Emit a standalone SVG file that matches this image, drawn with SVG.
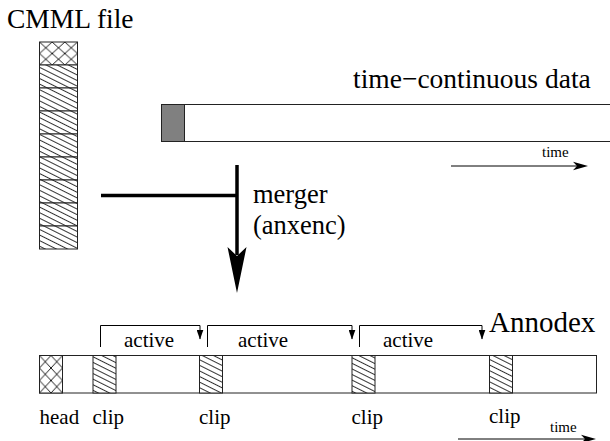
<svg xmlns="http://www.w3.org/2000/svg" width="610" height="441" viewBox="0 0 610 441">
<style>
text{fill:#000;font-family:'Liberation Serif','Times New Roman',serif}
.big{font-size:27.5px}
.mid{font-size:21px}
.sm{font-size:15px}
.box{fill:#fff;stroke:#222;stroke-width:1}
.thin{fill:none;stroke:#000;stroke-width:1}
.thick{fill:none;stroke:#000;stroke-width:3.5}
</style>
<defs>
<pattern id="hatch" width="8" height="5" patternUnits="userSpaceOnUse" patternTransform="rotate(26.57)">
<rect width="8" height="5" fill="#fff"/>
<line x1="0" y1="2.5" x2="8" y2="2.5" stroke="#000" stroke-width="0.8"/>
</pattern>
<pattern id="cross1" x="39.5" y="42" width="12.667" height="11.5" patternUnits="userSpaceOnUse">
<rect width="12.667" height="11.5" fill="#fff"/>
<path d="M0,0 L12.667,11.5 M12.667,0 L0,11.5" stroke="#000" stroke-width="0.9"/>
</pattern>
<pattern id="cross2" x="39.5" y="355.5" width="11.5" height="12.5" patternUnits="userSpaceOnUse">
<rect width="11.5" height="12.5" fill="#fff"/>
<path d="M0,0 L11.5,12.5 M11.5,0 L0,12.5" stroke="#000" stroke-width="0.9"/>
</pattern>
<marker id="ah" markerWidth="7" markerHeight="10" refX="3.5" refY="9.5" orient="0" markerUnits="userSpaceOnUse">
<path d="M0,0 L7,0 L3.5,10 Z" fill="#000"/>
</marker>
</defs>

<g id="cmml">
<text class="big" x="7" y="28">CMML file</text>
<rect x="39.5" y="42" width="38" height="23" fill="url(#cross1)" stroke="#222"/>
<rect x="39.5" y="65" width="38" height="23" fill="url(#hatch)" stroke="#222"/>
<rect x="39.5" y="88" width="38" height="23" fill="url(#hatch)" stroke="#222"/>
<rect x="39.5" y="111" width="38" height="23" fill="url(#hatch)" stroke="#222"/>
<rect x="39.5" y="134" width="38" height="23" fill="url(#hatch)" stroke="#222"/>
<rect x="39.5" y="157" width="38" height="23" fill="url(#hatch)" stroke="#222"/>
<rect x="39.5" y="180" width="38" height="23" fill="url(#hatch)" stroke="#222"/>
<rect x="39.5" y="203" width="38" height="23" fill="url(#hatch)" stroke="#222"/>
<rect x="39.5" y="226" width="38" height="23" fill="url(#hatch)" stroke="#222"/>
</g>

<g id="timedata">
<text class="big" x="353" y="88">time−continuous data</text>
<rect class="box" x="161.5" y="104.5" width="460" height="37"/>
<rect x="161.5" y="104.5" width="23" height="37" fill="#808080" stroke="#222"/>
<text class="sm" x="542" y="157">time</text>
<line class="thin" x1="451" y1="166" x2="578" y2="166"/>
<path d="M588,166 L573,161.8 L577,166 L573,170.2 Z" fill="#000"/>
</g>

<g id="merger">
<text x="253" y="203" font-size="26.5">merger</text>
<text x="253" y="234" font-size="26.5">(anxenc)</text>
</g>

<g id="connectors">
<line class="thick" x1="101" y1="195.5" x2="237" y2="195.5"/>
<line class="thick" x1="237" y1="165" x2="237" y2="255"/>
<path d="M237,293 L227.5,247 L237,256 L246.5,247 Z" fill="#000"/>
<path class="thin" d="M100.5,347 V325.5 H200 V339" marker-end="url(#ah)"/>
<path class="thin" d="M207.5,347 V325.5 H352 V339" marker-end="url(#ah)"/>
<path class="thin" d="M359.5,347 V325.5 H482 V339" marker-end="url(#ah)"/>
</g>

<g id="annodex">
<text x="489" y="332" font-size="29">Annodex</text>
<text class="mid" x="124" y="347">active</text>
<text class="mid" x="238" y="347">active</text>
<text class="mid" x="383" y="347">active</text>
<rect class="box" x="39.5" y="355.5" width="557" height="37.5"/>
<rect x="39.5" y="355.5" width="23" height="37.5" fill="url(#cross2)" stroke="#222"/>
<rect x="93" y="355.5" width="23" height="37.5" fill="url(#hatch)" stroke="#222"/>
<rect x="199.5" y="355.5" width="23" height="37.5" fill="url(#hatch)" stroke="#222"/>
<rect x="352" y="355.5" width="23" height="37.5" fill="url(#hatch)" stroke="#222"/>
<rect x="489.5" y="355.5" width="23" height="37.5" fill="url(#hatch)" stroke="#222"/>
<text class="mid" x="39.5" y="424">head</text>
<text class="mid" x="92.5" y="424">clip</text>
<text class="mid" x="199" y="424">clip</text>
<text class="mid" x="351.5" y="424">clip</text>
<text class="mid" x="489" y="423">clip</text>
<text class="sm" x="550" y="432">time</text>
<line class="thin" x1="458" y1="439" x2="586" y2="439"/>
<path d="M596,439 L581,434.8 L585,439 L581,443.2 Z" fill="#000"/>
</g>
</svg>
